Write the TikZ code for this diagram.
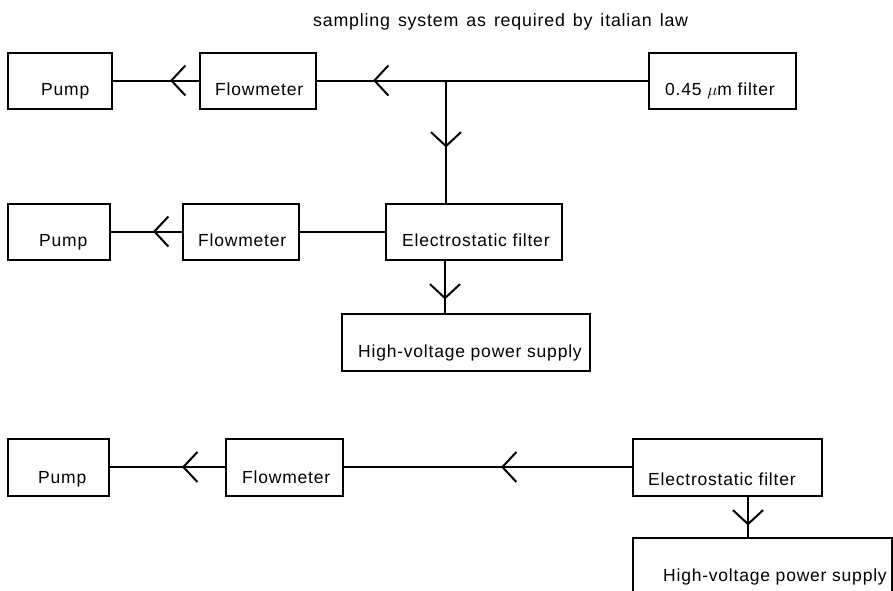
\documentclass[tikz,border=0pt]{standalone}
\usepackage{fontspec}
\setmainfont{Liberation Sans}[LetterSpace=4.5]
\usetikzlibrary{arrows.meta,decorations.markings}
\tikzset{
  box/.style={draw,line width=2pt,rectangle,inner sep=0pt,outer sep=0pt},
  lbl/.style={anchor=base west,inner sep=0pt,font=\fontsize{17.5}{20}\selectfont},
  conn/.style={line width=2pt},
  chev/.style={postaction={decorate,decoration={markings,
     mark=at position #1 with {\arrow{Straight Barb[length=14pt,width=30pt,line width=2pt]}}}}}
}
\begin{document}
\begin{tikzpicture}[x=1pt,y=-1pt]
\useasboundingbox (0,0) rectangle (893,590);
\clip (0,0) rectangle (893,590);
% title
\node[lbl,font=\fontsize{17.8}{20}\selectfont] (title) at (313,26) {\spaceskip=8pt sampling system as required by italian law};
% top row
\node[box,minimum width=104pt,minimum height=56pt] (pump1) at (60,80.5) {};
\node[box,minimum width=116pt,minimum height=56pt] (fm1) at (258,80.5) {};
\node[box,minimum width=147pt,minimum height=56pt] (filt) at (722.5,80.5) {};
\node[lbl] (tpump1) at (41,95) {Pump};
\node[lbl] (tfm1) at (215,95) {Flowmeter};
\node[lbl] (tfilt) at (665,95) {0.45 $\mu$m filter};
% middle row
\node[box,minimum width=102pt,minimum height=56pt] (pump2) at (59,231.5) {};
\node[box,minimum width=116pt,minimum height=56pt] (fm2) at (241,231.5) {};
\node[box,minimum width=176pt,minimum height=56pt] (ef2) at (474,231.5) {};
\node[box,minimum width=248pt,minimum height=57pt] (hv2) at (466,342.5) {};
\node[lbl] (tpump2) at (39,246) {Pump};
\node[lbl] (tfm2) at (198,246) {Flowmeter};
\node[lbl] (tef2) at (402,246) {Electrostatic filter};
\node[lbl] (thv2) at (358,357) {High-voltage power supply};
% bottom row
\node[box,minimum width=101pt,minimum height=57pt] (pump3) at (58.5,467) {};
\node[box,minimum width=117pt,minimum height=57pt] (fm3) at (284.5,467) {};
\node[box,minimum width=189pt,minimum height=57pt] (ef3) at (727.5,467) {};
\node[box,minimum width=259pt,minimum height=60pt] (hv3) at (762.5,568) {};
\node[lbl] (tpump3) at (38,483) {Pump};
\node[lbl] (tfm3) at (242,483) {Flowmeter};
\node[lbl] (tef3) at (648,485) {Electrostatic filter};
\node[lbl] (thv3) at (663,581) {High-voltage power supply};
% connectors top
\coordinate (J) at (446,80.5);
\draw[conn,chev=30pt] (fm1.west) -- (pump1.east);
\draw[conn,chev=276pt] (filt.west) -- (fm1.east);
\draw[conn,chev=67pt] (J) -- (J |- ef2.north);
% middle
\draw[conn] (ef2.west) -- (fm2.east);
\draw[conn,chev=30pt] (fm2.west) -- (pump2.east);
\coordinate (K) at (445,260);
\draw[conn,chev=40pt] (K |- ef2.south) -- (K |- hv2.north);
% bottom
\draw[conn,chev=132pt] (ef3.west) -- (fm3.east);
\draw[conn,chev=44pt] (fm3.west) -- (pump3.east);
\coordinate (L) at (748,497);
\draw[conn,chev=30pt] (L |- ef3.south) -- (L |- hv3.north);
\end{tikzpicture}
\end{document}
